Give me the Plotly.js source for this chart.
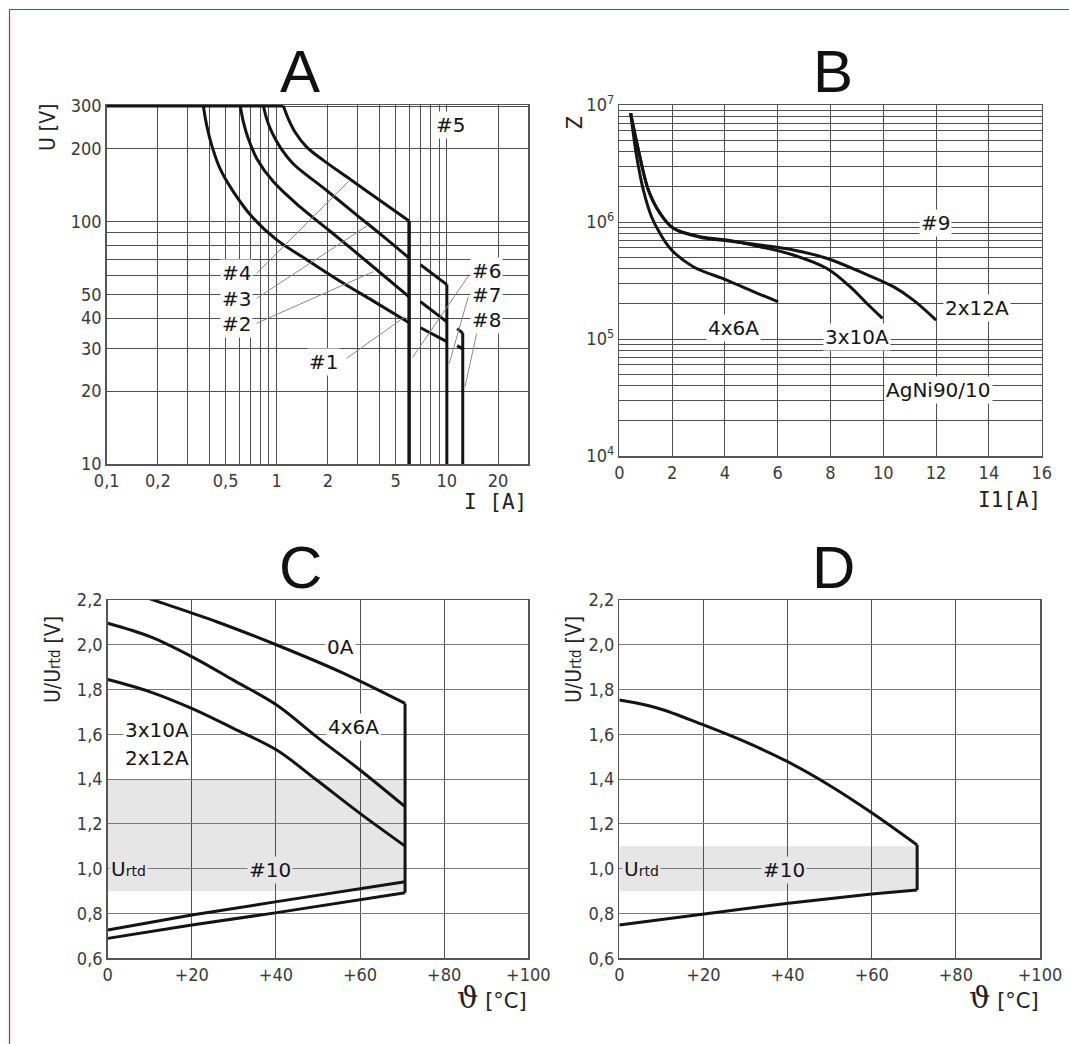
<!DOCTYPE html>
<html>
<head>
<meta charset="utf-8">
<script src="https://cdn.plot.ly/plotly-3.0.1.min.js"></script>
<style>html,body{margin:0;padding:0;background:#fff;}#chart{width:1069px;height:1044px;}</style>
</head>
<body>
<div id="chart"></div>
<script>
// ---------- Panel A : U [V] vs I [A] (log-log) ----------
const aTopI = [0.1, 1.094];
const aTopU = [300, 300];
const aCurve1I = [0.37, 0.3875, 0.415, 0.464, 0.556, 0.729, 1.0, 1.501, 2.358, 3.70, 6.0];
const aCurve1U = [300, 249, 206, 165.4, 132.8, 103.2, 84.1, 69.7, 56.8, 47.0, 38.3];
const aCurve2I = [0.61, 0.637, 0.681, 0.763, 0.956, 1.372, 2.06, 3.70, 6.0];
const aCurve2U = [300, 257, 219.5, 182, 146, 115, 91.3, 65.0, 48.9];
const aCurve3I = [0.835, 0.873, 0.935, 1.046, 1.253, 1.881, 2.955, 4.24, 6.0];
const aCurve3U = [300, 265, 234, 203, 173, 137.8, 106.5, 86.8, 70.8];
const aCurve4I = [1.094, 1.171, 1.282, 1.501, 1.881, 2.698, 4.05, 6.0];
const aCurve4U = [300, 265, 234, 203, 179, 149.6, 122.3, 100.6];
const aSeg10I = [7, 10];
const aSeg10U_a = [66.4, 55];
const aSeg10U_b = [46.7, 38.6];
const aSeg10U_c = [36.5, 32];
const aHookI = [11.5, 12.4];
const aHookU_a = [36.2, 34.7];
const aHookU_b = [30.8, 29.8];
const aDrop6I = [6, 6];    const aDrop6U = [100.6, 10];
const aDrop10I = [10, 10]; const aDrop10U = [55, 10];
const aDrop12I = [12.4, 12.4]; const aDrop12U = [34.7, 10];
const aXTicks = [0.1, 0.2, 0.5, 1, 2, 5, 10, 20];
const aXTickText = ['0,1', '0,2', '0,5', '1', '2', '5', '10', '20'];
const aYTicks = [10, 20, 30, 40, 50, 100, 200, 300];

// ---------- Panel B : Z vs I1 [A] ----------
const b4x6I = [0.43, 0.66, 0.91, 1.22, 1.54, 1.98, 2.8, 4.07, 5.08, 6.02];
const b4x6Z = [8.49e6, 3.61e6, 1.88e6, 1.11e6, 8.0e5, 5.77e5, 4.15e5, 3.19e5, 2.54e5, 2.08e5];
const b3x10I = [0.43, 0.78, 1.1, 1.54, 2.05, 3.06, 4.07, 5.33, 6.59, 7.85, 8.74, 9.37, 9.97];
const b3x10Z = [8.49e6, 3.61e6, 1.88e6, 1.19e6, 8.83e5, 7.5e5, 7.01e5, 6.15e5, 5.22e5, 4.02e5, 2.8e5, 2.02e5, 1.5e5];
const b2x12I = [0.43, 0.78, 1.1, 1.54, 2.05, 3.06, 4.07, 5.33, 6.59, 7.85, 9.12, 10.38, 11.14, 12.0];
const b2x12Z = [8.49e6, 3.61e6, 1.88e6, 1.19e6, 8.83e5, 7.41e5, 6.92e5, 6.35e5, 5.77e5, 4.9e5, 3.76e5, 2.8e5, 2.15e5, 1.45e5];
const bXTicks = [0, 2, 4, 6, 8, 10, 12, 14, 16];
const bDecades = [4, 5, 6, 7];

// ---------- Panel C : U/Urtd vs temperature ----------
const c0AT = [0, 11.65, 25.9, 40.2, 55.2, 70.7];
const c0AV = [2.27, 2.195, 2.103, 1.999, 1.880, 1.738];
const c4x6T = [0, 10.06, 19.97, 29.87, 40.17, 49.68, 59.98, 70.7];
const c4x6V = [2.096, 2.036, 1.947, 1.842, 1.731, 1.589, 1.441, 1.277];
const c3x10T = [0, 10.06, 19.97, 29.87, 40.17, 49.68, 59.98, 70.7];
const c3x10V = [1.845, 1.790, 1.716, 1.627, 1.530, 1.396, 1.247, 1.101];
const cLow1T = [0, 20, 40.2, 60, 70.7];
const cLow1V = [0.7265, 0.793, 0.853, 0.9125, 0.942];
const cLow2T = [0, 20, 40.2, 60, 70.7];
const cLow2V = [0.689, 0.749, 0.804, 0.86, 0.893];
const cEdgeT = [70.7, 70.7]; const cEdgeV = [1.738, 0.893];
const cBandT = [0, 70.7]; const cBandV = [0.9, 1.4];

// ---------- Panel D ----------
const dUpT = [0, 9, 20, 30, 40, 50, 60, 70.8];
const dUpV = [1.753, 1.718, 1.642, 1.566, 1.478, 1.372, 1.250, 1.106];
const dLowT = [0, 20, 40.2, 60, 70.8];
const dLowV = [0.749, 0.798, 0.846, 0.887, 0.905];
const dEdgeT = [70.8, 70.8]; const dEdgeV = [1.106, 0.905];
const dBandT = [0, 70.8]; const dBandV = [0.9, 1.1];

const tTicks = [0, 20, 40, 60, 80, 100];
const vTicks = [0.6, 0.8, 1.0, 1.2, 1.4, 1.6, 1.8, 2.0, 2.2];

// ---------- build ----------
const W = 1069, H = 1044;
const px = x => x / W, py = y => 1 - y / H;
const INK = '#141414';
const GRID = '#505050';
const TICKFONT = {family: 'Liberation Sans Narrow, DejaVu Sans Condensed, Roboto, sans-serif', size: 18, color: '#3a3a3a'};
const LBLFONT = {family: 'DejaVu Sans, Verdana, sans-serif', size: 20, color: '#141414'};

function line(x, y, xa, ya, w, opt) {
  return Object.assign({type: 'scatter', mode: 'lines', x: x, y: y, xaxis: xa, yaxis: ya,
    line: {color: INK, width: w || 3}, hoverinfo: 'skip', showlegend: false}, opt || {});
}
const sp = {line: {color: INK, width: 3, shape: 'spline', smoothing: 1}};

const traces = [
  // A
  line(aTopI, aTopU, 'x', 'y'),
  line(aCurve1I, aCurve1U, 'x', 'y', 3, sp),
  line(aCurve2I, aCurve2U, 'x', 'y', 3, sp),
  line(aCurve3I, aCurve3U, 'x', 'y', 3, sp),
  line(aCurve4I, aCurve4U, 'x', 'y', 3, sp),
  line(aSeg10I, aSeg10U_a, 'x', 'y'),
  line(aSeg10I, aSeg10U_b, 'x', 'y'),
  line(aSeg10I, aSeg10U_c, 'x', 'y'),
  line(aHookI, aHookU_a, 'x', 'y'),
  line(aHookI, aHookU_b, 'x', 'y'),
  line(aDrop6I, aDrop6U, 'x', 'y', 3.5),
  line(aDrop10I, aDrop10U, 'x', 'y'),
  line(aDrop12I, aDrop12U, 'x', 'y'),
  // B
  line(b4x6I, b4x6Z, 'x2', 'y2', 3, sp),
  line(b3x10I, b3x10Z, 'x2', 'y2', 3, sp),
  line(b2x12I, b2x12Z, 'x2', 'y2', 3, sp),
  // C
  line(c0AT, c0AV, 'x3', 'y3', 3, sp),
  line(c4x6T, c4x6V, 'x3', 'y3', 3, sp),
  line(c3x10T, c3x10V, 'x3', 'y3', 3, sp),
  line(cLow1T, cLow1V, 'x3', 'y3'),
  line(cLow2T, cLow2V, 'x3', 'y3'),
  line(cEdgeT, cEdgeV, 'x3', 'y3'),
  // D
  line(dUpT, dUpV, 'x4', 'y4', 3, sp),
  line(dLowT, dLowV, 'x4', 'y4'),
  line(dEdgeT, dEdgeV, 'x4', 'y4'),
];

// grid values (styling only)
const aXGrid = [];
[0.1, 1].forEach(d => { for (let k = 1; k <= 9; k++) aXGrid.push(+(k * d).toFixed(2)); });
aXGrid.push(10, 20);
const aYGrid = [10, 20, 30, 40, 50, 60, 70, 80, 90, 100, 200, 300];
const bYGrid = [], bYText = [];
for (let e = 4; e <= 6; e++) for (let k = 1; k <= 9; k++) {
  bYGrid.push(k * Math.pow(10, e));
  bYText.push(k === 1 ? '10<sup>' + e + '</sup>' : '');
}
bYGrid.push(1e7); bYText.push('10<sup>7</sup>');

const baseAx = {showline: true, mirror: true, linecolor: '#555', linewidth: 1.5,
  showgrid: true, gridcolor: GRID, gridwidth: 1, zeroline: false, ticks: '', tickfont: TICKFONT,
  tickmode: 'array', fixedrange: true};

const layout = {
  width: W, height: H, margin: {l: 0, r: 0, t: 0, b: 0}, paper_bgcolor: '#fff', plot_bgcolor: '#fff',
  showlegend: false,
  xaxis: Object.assign({}, baseAx, {type: 'log', range: [-1, Math.log10(30)], domain: [px(106.7), px(528)], anchor: 'y',
    tickvals: aXGrid, ticktext: aXGrid.map(v => { const i = aXTicks.indexOf(v); return i >= 0 ? aXTickText[i] : ''; })}),
  yaxis: Object.assign({}, baseAx, {type: 'log', range: [1, Math.log10(303)], domain: [py(464), py(105)], anchor: 'x',
    tickvals: aYGrid, ticktext: aYGrid.map(v => aYTicks.indexOf(v) >= 0 ? String(v) : '')}),
  xaxis2: Object.assign({}, baseAx, {range: [0, 16], domain: [px(619.3), px(1041.7)], anchor: 'y2',
    tickvals: bXTicks, ticktext: bXTicks.map(String)}),
  yaxis2: Object.assign({}, baseAx, {type: 'log', range: [bDecades[0], bDecades[3]], domain: [py(456), py(105)], anchor: 'x2',
    tickvals: bYGrid, ticktext: bYText}),
  xaxis3: Object.assign({}, baseAx, {range: [0, 100], domain: [px(107.7), px(528.3)], anchor: 'y3',
    tickvals: tTicks, ticktext: tTicks.map(v => v === 0 ? '0' : '+' + v)}),
  yaxis3: Object.assign({}, baseAx, {range: [0.6, 2.2], domain: [py(958.3), py(600)], anchor: 'x3', gridcolor: '#7a7a7a',
    tickvals: vTicks, ticktext: vTicks.map(v => v.toFixed(1).replace('.', ','))}),
  xaxis4: Object.assign({}, baseAx, {range: [0, 100], domain: [px(619.3), px(1040)], anchor: 'y4',
    tickvals: tTicks, ticktext: tTicks.map(v => v === 0 ? '0' : '+' + v)}),
  yaxis4: Object.assign({}, baseAx, {range: [0.6, 2.2], domain: [py(958.3), py(600)], anchor: 'x4', gridcolor: '#7a7a7a',
    tickvals: vTicks, ticktext: vTicks.map(v => v.toFixed(1).replace('.', ','))}),
  annotations: [],
  shapes: []
};

// shaded bands (below the grid)
layout.shapes.push({type: 'rect', xref: 'x3', yref: 'y3', x0: cBandT[0], x1: cBandT[1], y0: cBandV[0], y1: cBandV[1],
  fillcolor: '#e6e6e6', line: {width: 0}, layer: 'below'});
layout.shapes.push({type: 'rect', xref: 'x4', yref: 'y4', x0: dBandT[0], x1: dBandT[1], y0: dBandV[0], y1: dBandV[1],
  fillcolor: '#e6e6e6', line: {width: 0}, layer: 'below'});

function lbl(text, x, y, opt) {
  layout.annotations.push(Object.assign({xref: 'paper', yref: 'paper', x: px(x), y: py(y), text: text,
    showarrow: false, font: LBLFONT, bgcolor: '#ffffff', borderpad: 1, xanchor: 'center', yanchor: 'middle'}, opt || {}));
}
function leader(x0, y0, x1, y1) {
  layout.shapes.push({type: 'line', xref: 'paper', yref: 'paper', x0: px(x0), y0: py(y0), x1: px(x1), y1: py(y1),
    line: {color: '#8a8a8a', width: 1}, layer: 'above'});
}

// panel titles
const TITLEFONT = {family: 'Liberation Sans, Arial, sans-serif', size: 60, color: '#111'};
[['A', 300], ['B', 833]].forEach(([t, x]) => lbl(t, x, 71, {font: TITLEFONT, bgcolor: 'rgba(0,0,0,0)'}));
[['C', 300], ['D', 833]].forEach(([t, x]) => lbl(t, x, 567, {font: TITLEFONT, bgcolor: 'rgba(0,0,0,0)'}));

// leaders A
leader(256.7, 273.3, 350, 180);
leader(256.7, 298.3, 368.3, 225);
leader(256.7, 323.3, 373.3, 271.7);
leader(346.7, 358.3, 405, 316.7);
leader(468.3, 276, 412.7, 357.3);
leader(468.3, 296.7, 449.3, 363.3);
leader(476.7, 333.3, 465, 386.7);

// labels A
lbl('#5', 450, 125);
lbl('#4', 236.7, 273);
lbl('#3', 236.7, 299);
lbl('#2', 236.7, 324);
lbl('#1', 323, 361.7);
lbl('#6', 486.5, 271.5);
lbl('#7', 486.5, 295);
lbl('#8', 486.5, 320);
// labels B
lbl('#9', 935, 223.3);
lbl('4x6A', 733.3, 328.3);
lbl('3x10A', 856.7, 336.7);
lbl('2x12A', 976.7, 308.3);
lbl('AgNi90/10', 938.3, 390);
// labels C
const URTD = 'U<span style="font-size:14px">rtd</span>';
lbl('0A', 340, 646.7);
lbl('4x6A', 353.3, 726.7);
lbl('3x10A', 156.7, 730);
lbl('2x12A', 156.7, 758.3);
lbl(URTD, 128, 869.3, {bgcolor: '#e6e6e6'});
lbl('#10', 270, 870, {bgcolor: '#e6e6e6'});
// labels D
lbl(URTD, 641, 869.3, {bgcolor: '#e6e6e6'});
lbl('#10', 784, 870, {bgcolor: '#e6e6e6'});

// axis titles
const AXFONT = {family: 'Liberation Sans Narrow, DejaVu Sans Condensed, sans-serif', size: 21, color: '#222'};
const MONOFONT = {family: 'DejaVu Sans Mono, Liberation Mono, monospace', size: 21, color: '#222'};
lbl('U [V]', 48, 127, {font: AXFONT, textangle: -90, bgcolor: 'rgba(0,0,0,0)'});
lbl('Z', 575, 123, {font: AXFONT, textangle: -90, bgcolor: 'rgba(0,0,0,0)'});
lbl('U/U<span style="font-size:15px">rtd</span> [V]', 53, 660, {font: AXFONT, textangle: -90, bgcolor: 'rgba(0,0,0,0)'});
lbl('U/U<span style="font-size:15px">rtd</span> [V]', 574, 660, {font: AXFONT, textangle: -90, bgcolor: 'rgba(0,0,0,0)'});
lbl('I [A]', 529, 502, {font: MONOFONT, xanchor: 'right', bgcolor: 'rgba(0,0,0,0)'});
lbl('I1[A]', 1043, 500, {font: MONOFONT, xanchor: 'right', bgcolor: 'rgba(0,0,0,0)'});
const THETA = '<span style="font-family:DejaVu Serif;font-size:30px">ϑ</span><span style="font-family:DejaVu Sans"> [°C]</span>';
lbl(THETA, 529, 997, {font: MONOFONT, xanchor: 'right', bgcolor: 'rgba(0,0,0,0)'});
lbl(THETA, 1041, 997, {font: MONOFONT, xanchor: 'right', bgcolor: 'rgba(0,0,0,0)'});

// red frame
layout.shapes.push({type: 'line', xref: 'paper', yref: 'paper', x0: px(9.5), y0: py(9.5), x1: px(1069), y1: py(9.5), line: {color: '#d62030', width: 1.2}});
layout.shapes.push({type: 'line', xref: 'paper', yref: 'paper', x0: px(9.5), y0: py(9.5), x1: px(9.5), y1: py(1044), line: {color: '#d62030', width: 1.2}});

Plotly.newPlot('chart', traces, layout, {staticPlot: true, displayModeBar: false});
</script>
</body>
</html>
